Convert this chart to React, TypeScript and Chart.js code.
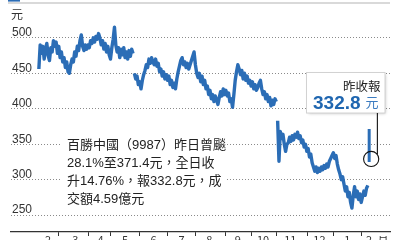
import React, { useEffect, useRef } from 'react';
import { Chart, registerables } from 'chart.js';

Chart.register(...registerables);

// ---- data (trading-day index on x, HK$ on y) ----
const feb23 = [456, 490, 478, 488, 470, 485, 492, 475, 468, 486, 480, 496, 488, 494, 478];
const mar23 = [488, 472, 480, 466, 472, 458, 466, 452, 450, 462, 470, 466, 480, 474, 488, 482, 496, 504, 488, 482, 490, 484, 490];
const apr23 = [486, 496, 492, 500, 494, 502, 498, 506, 500, 490, 496, 484, 492, 480, 488, 476];
const may23 = [470, 486, 498, 515, 490, 480, 486, 472, 484, 476, 486, 472, 480, 470, 482, 474, 484, 478, 450, 442, 446, 434];
const jun23 = [438, 428, 440, 448, 454, 462, 458, 470, 464, 472, 466, 462, 470, 460, 464, 452, 456, 446, 452, 442, 448];
const jul23 = [440, 446, 434, 440, 430, 436, 428, 442, 452, 460, 468, 472, 462, 466, 458, 464, 456, 462, 468, 474, 480];
const aug23 = [462, 450, 444, 450, 438, 446, 434, 440, 428, 432, 420, 426, 414, 420, 410, 418, 412, 406, 416, 424, 418, 428, 420];
const sep23 = [426, 418, 422, 410, 414, 402, 420, 440, 452, 462, 456, 448, 454, 442, 450, 440, 446, 436, 440];
const oct23 = [432, 438, 428, 434, 426, 430, 436, 440, 428, 420, 424, 414, 420, 410, 416, 404, 412, 406, 414, 410];
const nov23 = [383, 326, 368, 358, 364, 350, 340, 350, 352, 360, 354, 362, 356, 364, 360, 367, 358, 362, 352, 356, 346, 350];
const dec23 = [340, 344, 332, 336, 324, 318, 312, 318, 310, 316, 312, 318, 314, 320, 316, 322, 318, 326, 330, 334];
const jan24 = [338, 330, 334, 322, 314, 308, 300, 304, 294, 284, 290, 276, 282, 268, 260, 278, 290, 276, 284, 272, 280, 268];
const feb24 = [276, 284, 278, 288, 292];

const prices = [...feb23, ...mar23, ...apr23, ...may23, ...jun23, ...jul23, ...aug23, ...sep23, ...oct23, ...nov23, ...dec23, ...jan24, ...feb24];
const gapStarts = [72, 180];

const spikeIndex = 249;
const spikeHigh = 371.4;
const spikeLow = 325;
const lastClose = 332.8;

const yTicks = [250, 300, 350, 400, 450, 500];
const monthLabels = ['2', '3', '4', '5', '6', '7', '8', '9', '10', '11', '12', '1', '2', '月'];
const monthLabelPos = [7, 27.5, 46.5, 65, 86.5, 107.5, 128.5, 150, 169, 189.5, 211.5, 232.5, 249, 259.5];
const monthBoundaries = [15, 37.5, 54, 76, 97, 118, 140.5, 160, 179.5, 202.5, 222, 243.5];

const yUnit = '元';
const noteLines = ['百勝中國（9987）昨日曾飈', '28.1%至371.4元，全日收', '升14.76%，報332.8元，成', '交額4.59億元'];
const calloutTitle = '昨收報';
const calloutValue = '332.8';
const calloutUnit = '元';

const X_MIN = -21;
const X_MAX = 264.7;
const Y_MIN = 226.3;
const Y_MAX = 541.7;

const LINE = '#2b6db6';
const TEXT = '#333';
const LATIN = '"Liberation Sans", "Noto Sans CJK TC", sans-serif';
const CJK = '"Noto Sans CJK TC", "Liberation Sans", sans-serif';

const decor = {
  id: 'decor',
  afterDraw(chart: any) {
    const { ctx, chartArea, scales } = chart;
    ctx.save();
    // header rule
    ctx.fillStyle = LINE;
    ctx.fillRect(8, 0, 12, 1.6);
    ctx.strokeStyle = '#b4b4b4';
    ctx.lineWidth = 1.2;
    ctx.beginPath();
    ctx.moveTo(8, 3);
    ctx.lineTo(chartArea.right, 3);
    ctx.stroke();

    // y unit
    ctx.fillStyle = TEXT;
    ctx.font = '12px ' + CJK;
    ctx.textAlign = 'left';
    ctx.textBaseline = 'middle';
    ctx.fillText(yUnit, 11, 14);

    // note block
    ctx.fillStyle = '#fff';
    ctx.fillRect(61, 133, 166, 73);
    ctx.fillStyle = '#222';
    ctx.font = '13px ' + LATIN;
    ctx.textBaseline = 'middle';
    const ys = [145.3, 163.3, 181.2, 199];
    noteLines.forEach((t, i) => ctx.fillText(t, 67, ys[i]));

    // callout
    const cx = scales.x.getPixelForValue(spikeIndex) + 2;
    const cy = scales.y.getPixelForValue(lastClose) + 2.5;
    const bx = 306.5, by = 72.5, bw = 78.5, bh = 40.5;
    ctx.save();
    ctx.shadowColor = 'rgba(0,0,0,0.25)';
    ctx.shadowBlur = 3;
    ctx.shadowOffsetX = 1;
    ctx.shadowOffsetY = 1;
    ctx.fillStyle = '#fff';
    ctx.fillRect(bx, by, bw, bh);
    ctx.restore();
    ctx.strokeStyle = '#d2d2d2';
    ctx.lineWidth = 1;
    ctx.strokeRect(bx, by, bw, bh);

    ctx.fillStyle = '#222';
    ctx.font = '12.5px ' + CJK;
    ctx.textAlign = 'right';
    ctx.textBaseline = 'middle';
    ctx.fillText(calloutTitle, 380.5, 86);

    ctx.textAlign = 'left';
    ctx.textBaseline = 'alphabetic';
    ctx.fillStyle = '#1f66b0';
    ctx.font = 'bold 19px ' + LATIN;
    ctx.fillText(calloutValue, 313, 108.5);
    ctx.fillStyle = '#3b7bc0';
    ctx.font = '13px ' + CJK;
    ctx.fillText(calloutUnit, 365.5, 107);

    ctx.strokeStyle = '#111';
    ctx.lineWidth = 1.1;
    ctx.beginPath();
    ctx.moveTo(cx + 6.2, by + bh);
    ctx.lineTo(cx + 6.2, cy - 4.4);
    ctx.stroke();
    ctx.beginPath();
    ctx.arc(cx, cy, 7.6, 0, Math.PI * 2);
    ctx.stroke();
    ctx.restore();
  },
};

export default function App() {
  const ref = useRef<HTMLCanvasElement | null>(null);
  useEffect(() => {
    if (!ref.current) return;
    const chart = new Chart(ref.current, {
      type: 'line',
      data: {
        datasets: [
          {
            data: prices.map((v, i) => ({ x: i, y: v })),
            borderColor: LINE,
            borderWidth: 3.4,
            pointRadius: 0,
            tension: 0,
            borderJoinStyle: 'round',
            segment: {
              borderColor: (c: any) => (gapStarts.includes(c.p1DataIndex) ? 'rgba(0,0,0,0)' : undefined),
            },
          } as any,
          {
            data: [
              { x: spikeIndex, y: spikeHigh },
              { x: spikeIndex, y: spikeLow },
            ],
            borderColor: LINE,
            borderWidth: 3,
            pointRadius: 0,
          },
        ],
      },
      options: {
        animation: false,
        responsive: false,
        events: [],
        layout: { padding: { left: 9, right: 10, top: 3, bottom: 0 } },
        plugins: { legend: { display: false }, tooltip: { enabled: false } },
        scales: {
          x: {
            type: 'linear',
            position: 'bottom',
            min: X_MIN,
            max: X_MAX,
            afterBuildTicks: (s: any) => {
              s.ticks = monthBoundaries.map((v) => ({ value: v }));
            },
            afterFit: (s: any) => {
              s.height = 4;
            },
            grid: { drawOnChartArea: false, drawTicks: true, tickLength: 4, color: '#333', lineWidth: 1 },
            ticks: { display: false },
            border: { display: true, color: '#333', width: 1.2 },
          },
          x2: {
            type: 'linear',
            position: 'bottom',
            min: X_MIN,
            max: X_MAX,
            afterBuildTicks: (s: any) => {
              s.ticks = monthLabelPos.map((v) => ({ value: v }));
            },
            afterFit: (s: any) => {
              s.height = 12;
            },
            grid: { display: false, drawTicks: false, tickLength: 0 },
            border: { display: false },
            ticks: {
              autoSkip: false,
              maxRotation: 0,
              padding: -3,
              color: TEXT,
              font: { family: CJK, size: 11 },
              callback: (_v: any, i: number) => monthLabels[i],
            },
          },
          y: {
            type: 'linear',
            position: 'left',
            min: Y_MIN,
            max: Y_MAX,
            afterBuildTicks: (s: any) => {
              s.ticks = yTicks.map((v) => ({ value: v }));
            },
            grid: { color: '#8a8a8a', lineWidth: 1, drawTicks: false, borderDash: [1, 2] },
            border: { display: false, dash: [1, 2] },
            ticks: {
              mirror: true,
              padding: 1,
              labelOffset: -5,
              color: TEXT,
              font: { family: LATIN, size: 12 },
              callback: (v: any) => String(v),
            },
          },
        },
      } as any,
      plugins: [decor],
    });
    return () => chart.destroy();
  }, []);
  return (
    <div style={{ position: 'absolute', left: 0, top: 0, width: 400, height: 240, overflow: 'hidden', background: '#fff' }}>
      <canvas ref={ref} width={400} height={248} style={{ display: 'block', width: 400, height: 248 }} />
    </div>
  );
}
